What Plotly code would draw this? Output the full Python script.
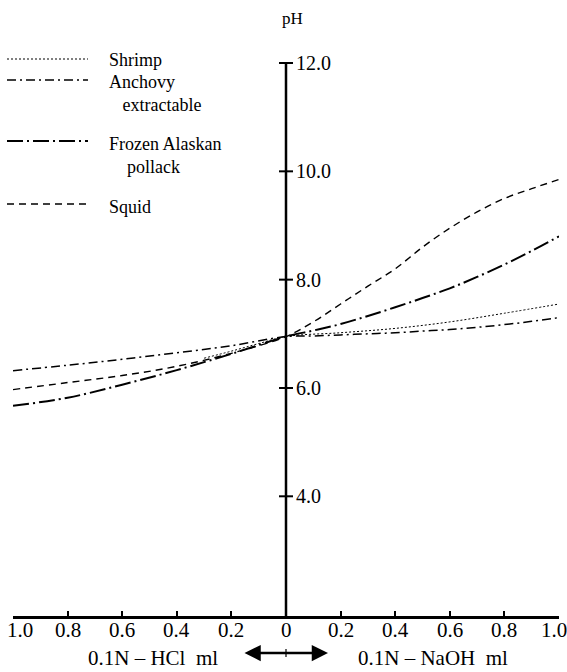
import plotly.graph_objects as go

# ---- data ----
x_full = [-1.0, -0.8, -0.6, -0.4, -0.2, 0.0, 0.1, 0.2, 0.3, 0.4, 0.5, 0.6, 0.7, 0.8, 0.9, 1.0]
shrimp_x = [-0.3, -0.2, -0.1, 0.0, 0.2, 0.4, 0.6, 0.8, 1.0]
shrimp_y = [6.55, 6.68, 6.82, 6.95, 7.02, 7.10, 7.22, 7.38, 7.55]
anchovy_y = [6.32, 6.42, 6.53, 6.65, 6.78, 6.95, 6.96, 6.98, 7.00, 7.02, 7.05, 7.08, 7.12, 7.17, 7.23, 7.30]
pollack_y = [5.67, 5.82, 6.06, 6.33, 6.63, 6.95, 7.06, 7.18, 7.33, 7.49, 7.66, 7.84, 8.05, 8.28, 8.53, 8.80]
squid_y = [5.97, 6.10, 6.23, 6.40, 6.64, 6.95, 7.22, 7.55, 7.88, 8.20, 8.60, 8.95, 9.25, 9.50, 9.68, 9.85]

x_ticks = [-1.0, -0.8, -0.6, -0.4, -0.2, 0.0, 0.2, 0.4, 0.6, 0.8, 1.0]
x_ticktext = ["1.0", "0.8", "0.6", "0.4", "0.2", "0", "0.2", "0.4", "0.6", "0.8", "1.0"]
y_ticks = [4.0, 6.0, 8.0, 10.0, 12.0]
y_ticktext = ["4.0", "6.0", "8.0", "10.0", "12.0"]

legend_names = ["Shrimp", "Anchovy<br>\u00a0\u00a0\u00a0extractable", "Frozen Alaskan<br>\u00a0\u00a0\u00a0\u00a0pollack", "Squid"]
x_title_left = "0.1N\u00a0–\u00a0HCl\u00a0\u00a0ml"
x_title_right = "0.1N\u00a0–\u00a0NaOH\u00a0\u00a0ml"

W, H = 567, 672
ML, MR, MT, MB = 13, 8, 63, 56
Y0, Y1 = 1.79, 12.0
FONT = "Liberation Serif"

styles = {
    "shrimp": dict(color="black", width=1, dash="2px,2px"),
    "anchovy": dict(color="black", width=1.5, dash="9px,4px,2px,4px"),
    "pollack": dict(color="black", width=2, dash="16px,4px,2px,4px"),
    "squid": dict(color="black", width=1.4, dash="7px,5px"),
}

fig = go.Figure()
fig.add_trace(go.Scatter(x=shrimp_x, y=shrimp_y, mode="lines", line=dict(shape="spline", **styles["shrimp"]), hoverinfo="skip"))
fig.add_trace(go.Scatter(x=x_full, y=anchovy_y, mode="lines", line=dict(shape="spline", **styles["anchovy"]), hoverinfo="skip"))
fig.add_trace(go.Scatter(x=x_full, y=pollack_y, mode="lines", line=dict(shape="spline", **styles["pollack"]), hoverinfo="skip"))
fig.add_trace(go.Scatter(x=x_full, y=squid_y, mode="lines", line=dict(shape="spline", **styles["squid"]), hoverinfo="skip"))

# cross tick marks on the central pH axis
fig.add_trace(go.Scatter(x=[0] * len(y_ticks), y=y_ticks, mode="markers",
                         marker=dict(symbol="line-ew", size=10, line=dict(color="black", width=2)),
                         hoverinfo="skip", cliponaxis=False))

# central vertical pH axis
fig.add_shape(type="line", x0=0, x1=0, y0=Y0, y1=Y1, xref="x", yref="y",
              line=dict(color="black", width=2.5))

pw = W - ML - MR
ph = H - MT - MB


def px(xp):
    return (xp - ML) / pw


def py(yp):
    return (H - MB - yp) / ph


# manual legend
leg_rows = [("shrimp", 59, 59), ("anchovy", 80, 81), ("pollack", 141, 143), ("squid", 204, 206)]
for (key, ly, ty), name in zip(leg_rows, legend_names):
    fig.add_shape(type="line", xref="paper", yref="paper", x0=px(7), x1=px(88), y0=py(ly), y1=py(ly),
                  line=styles[key])
    fig.add_annotation(x=px(107), y=py(ty - 11), xref="paper", yref="paper", text=name, showarrow=False,
                       xanchor="left", yanchor="top", align="left",
                       font=dict(family=FONT, size=18, color="black"))

# y tick labels right of the axis
for v, t in zip(y_ticks, y_ticktext):
    fig.add_annotation(x=0, y=v, xref="x", yref="y", text=t, showarrow=False, xanchor="left",
                       yanchor="middle", xshift=8, font=dict(family=FONT, size=20, color="black"))

# x tick labels below the axis (end labels nudged inwards so they stay on the page)
n_xt = len(x_ticks)
for i, (v, t) in enumerate(zip(x_ticks, x_ticktext)):
    shift = 7 if i == 0 else (-5 if i == n_xt - 1 else 0)
    fig.add_annotation(x=v, y=py(630), xref="x", yref="paper", text=t, showarrow=False, xshift=shift,
                       xanchor="center", yanchor="middle", font=dict(family=FONT, size=21, color="black"))

fig.add_annotation(x=0, y=py(19), xref="x", yref="paper", text="pH", showarrow=False,
                   xshift=6, xanchor="center", yanchor="middle", font=dict(family=FONT, size=17, color="black"))

# bottom axis titles
fig.add_annotation(x=px(153), y=py(658), xref="paper", yref="paper", text=x_title_left, showarrow=False,
                   xanchor="center", yanchor="middle", font=dict(family=FONT, size=21, color="black"))
fig.add_annotation(x=px(433), y=py(658), xref="paper", yref="paper", text=x_title_right, showarrow=False,
                   xanchor="center", yanchor="middle", font=dict(family=FONT, size=21, color="black"))
fig.add_annotation(x=px(328), y=py(653), ax=-85, ay=0, xref="paper", yref="paper",
                   axref="pixel", ayref="pixel", text="", showarrow=True, arrowside="end+start",
                   arrowhead=2, arrowsize=1.3, arrowwidth=2.5, arrowcolor="black", standoff=0, startstandoff=0)
fig.add_shape(type="line", xref="paper", yref="paper", x0=px(286), x1=px(286), y0=py(649), y1=py(657),
              line=dict(color="black", width=1.2))

fig.update_layout(
    width=W, height=H,
    margin=dict(l=ML, r=MR, t=MT, b=MB),
    paper_bgcolor="white", plot_bgcolor="white",
    showlegend=False,
    xaxis=dict(range=[-1.0, 1.0], tickvals=x_ticks, showticklabels=False, showline=True, linewidth=2.5,
               linecolor="black", ticks="inside", ticklen=5, tickwidth=1.5, tickcolor="black",
               showgrid=False, zeroline=False),
    yaxis=dict(range=[Y0, Y1], showticklabels=False, showgrid=False, zeroline=False, showline=False,
               ticks=""),
)

fig.write_html("out.html")
